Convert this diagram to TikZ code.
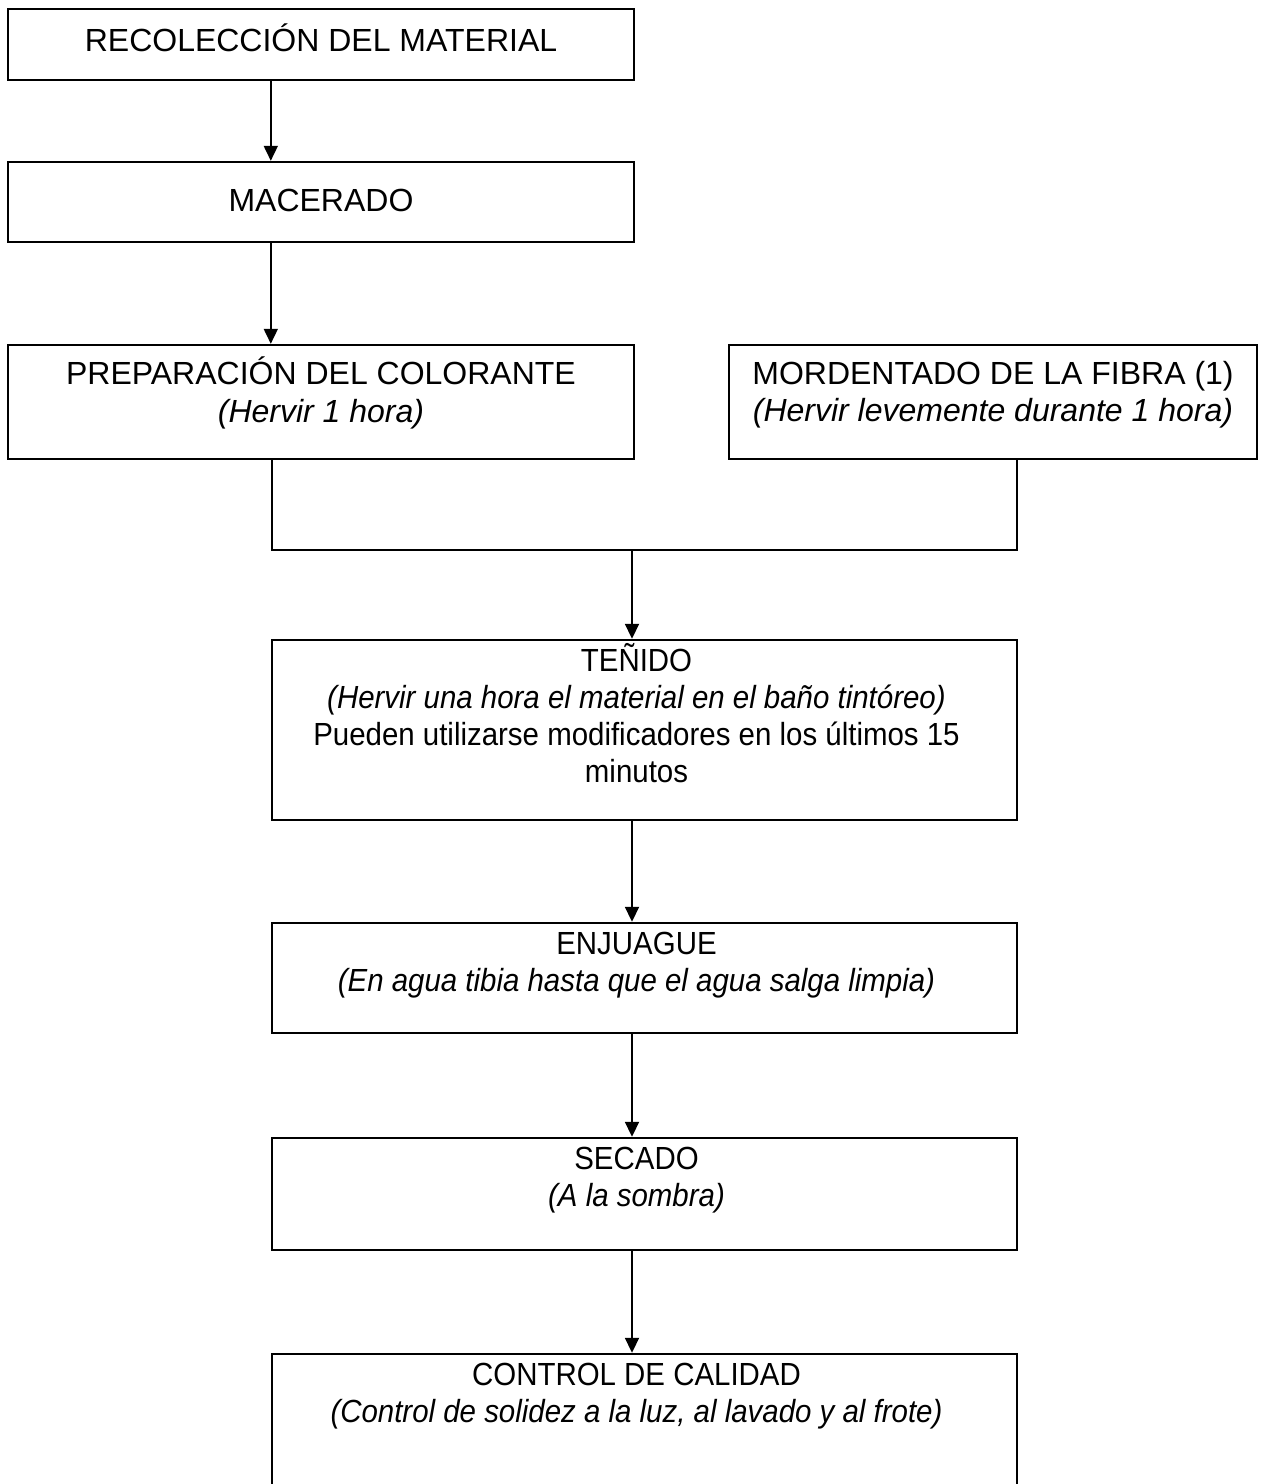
\documentclass[tikz,border=0pt]{standalone}
\usepackage{fontspec}
\setmainfont{Liberation Sans}
\newfontfamily\narrowsans[FakeStretch=0.92]{Liberation Sans}
\usetikzlibrary{positioning, arrows.meta}

\begin{document}
\begin{tikzpicture}[
    x=0.5pt, y=-0.5pt,
    arrow/.style={-{Triangle[length=7.5pt, width=7pt]}, line width=0.9pt},
    block/.style={rectangle, draw=black, line width=1.2pt, inner sep=0pt},
    wide/.style={block, minimum width=372.5pt},
    txt/.style={align=center, inner sep=0pt, font=\fontsize{16}{18.6}\selectfont},
    narrow/.style={txt, xshift=-4pt, font=\narrowsans\fontsize{16}{18.6}\selectfont}
]
    \clip (0,0) rectangle (1263,1484);

    % === Top chain ===
    \node[block, minimum width=313pt, minimum height=35.5pt] (recol) at (321,44.5) {};
    \node[txt, below=8pt of recol.north] {RECOLECCIÓN DEL MATERIAL};

    \node[block, minimum width=313pt, minimum height=40pt] (macer) at (321,202) {};
    \node[txt, below=14pt of macer.north] {MACERADO};

    \node[block, minimum width=313pt, minimum height=57pt] (prep) at (321,402) {};
    \node[txt, below=6.5pt of prep.north] {PREPARACIÓN DEL COLORANTE\\ \textit{(Hervir 1 hora)}};

    \node[block, minimum width=264pt, minimum height=57pt] (mord) at (993,402) {};
    \node[txt, below=8.5pt of mord.north] {MORDENTADO DE LA FIBRA (1)\\ \textit{(Hervir levemente durante 1 hora)}};

    % === Lower chain ===
    \node[wide, minimum height=90pt] (tenido) at (644.5,730) {};
    \node[narrow, below=2pt of tenido.north] {TEÑIDO\\
        \textit{(Hervir una hora el material en el baño tintóreo)}\\
        Pueden utilizarse modificadores en los últimos 15\\ minutos};

    \node[wide, minimum height=55pt] (enjuague) at (644.5,978) {};
    \node[narrow, below=5pt of enjuague.north] {ENJUAGUE\\
        \textit{(En agua tibia hasta que el agua salga limpia)}};

    \node[wide, minimum height=56pt] (secado) at (644.5,1194) {};
    \node[narrow, below=5pt of secado.north] {SECADO\\ \textit{(A la sombra)}};

    \node[wide, minimum height=83pt] (control) at (644.5,1437) {};
    \node[narrow, below=5pt of control.north] {CONTROL DE CALIDAD\\
        \textit{(Control de solidez a la luz, al lavado y al frote)}};

    % === Connectors ===
    \draw[arrow] (recol.south -| tenido.west) -- (macer.north -| tenido.west);
    \draw[arrow] (macer.south -| tenido.west) -- (prep.north -| tenido.west);

    \coordinate (jl) at (272,550);
    \coordinate (jr) at (1017,550);
    \coordinate (ax) at (632,550);
    \draw[line width=0.9pt] (prep.south -| jl) -- (jl) -- (jr) -- (mord.south -| jr);
    \draw[arrow] (ax) -- (ax |- tenido.north);

    \draw[arrow] (tenido.south -| ax) -- (enjuague.north -| ax);
    \draw[arrow] (enjuague.south -| ax) -- (secado.north -| ax);
    \draw[arrow] (secado.south -| ax) -- (control.north -| ax);

\end{tikzpicture}
\end{document}
